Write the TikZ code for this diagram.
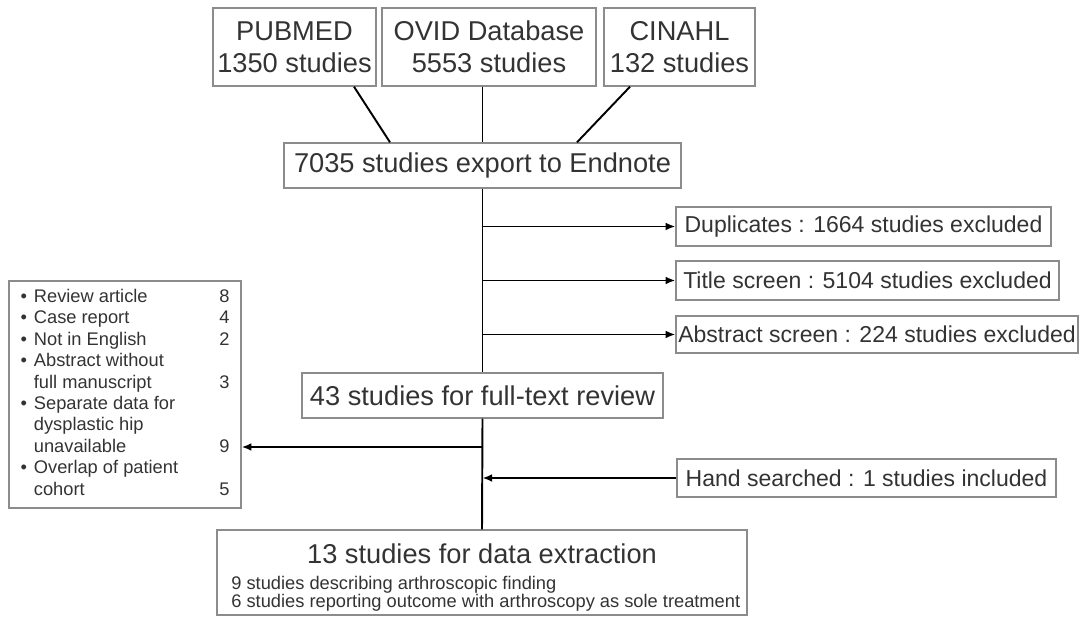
\documentclass[tikz,border=0pt]{standalone}
\usepackage{fontspec}
\setmainfont{Liberation Sans}
\usetikzlibrary{arrows.meta,calc}
\definecolor{boxgray}{HTML}{8C8C8C}
\definecolor{inkgray}{HTML}{333333}

\begin{document}
\begin{tikzpicture}[x=0.02cm,y=-0.02cm,
  box/.style={draw=boxgray,line width=0.8pt,text=inkgray,inner sep=0pt,align=center},
  big/.style={font=\fontsize{15.5}{18.1}\selectfont},
  mid/.style={font=\fontsize{13.1}{15}\selectfont},
  small/.style={font=\fontsize{10.4}{12.2}\selectfont},
  link/.style={line width=1.1pt},
  arr/.style={line width=1.1pt,-{Latex[length=5.5pt,width=4.5pt]}}]
\useasboundingbox (0,0) rectangle (1084,617);
\node[box,big,minimum width=3.26cm,minimum height=1.56cm] (pubmed) at (294.5,47) {PUBMED\\1350 studies};
\node[box,big,minimum width=4.28cm,minimum height=1.56cm] (ovid) at (489,47) {OVID Database\\5553 studies};
\node[box,big,minimum width=3.02cm,minimum height=1.56cm] (cinahl) at (679.5,47) {CINAHL\\132 studies};
\node[box,big,minimum width=7.94cm,minimum height=0.9cm] (endnote) at (482.5,165.5) {7035 studies export to Endnote};
\node[box,mid,minimum width=7.5cm,minimum height=0.78cm] (dup) at (863.5,226.5) {Duplicates : 1664 studies excluded};
\node[box,mid,minimum width=7.66cm,minimum height=0.78cm] (title) at (867.5,280.5) {Title screen : 5104 studies excluded};
\node[box,mid,minimum width=8.04cm,minimum height=0.74cm] (abstract) at (877,334.5) {Abstract screen : 224 studies excluded};
\node[box,big,minimum width=7.22cm,minimum height=0.9cm] (full) at (482.5,395.5) {43 studies for full-text review};
\node[box,small,minimum width=4.64cm,minimum height=4.54cm] (excl) at (125,394.5) {%
  \begin{tabular*}{4.18cm}{@{}l@{\hspace{0.14cm}}l@{\extracolsep{\fill}}r@{}}
  \textbullet & Review article & 8\\
  \textbullet & Case report & 4\\
  \textbullet & Not in English & 2\\
  \textbullet & Abstract without & \\
   & full manuscript & 3\\
  \textbullet & Separate data for & \\
   & dysplastic hip & \\
   & unavailable & 9\\
  \textbullet & Overlap of patient & \\
   & cohort & 5
  \end{tabular*}};
\node[box,mid,minimum width=7.58cm,minimum height=0.76cm] (hand) at (866.5,478) {Hand searched : 1 studies included};
\node[box,minimum width=10.6cm,minimum height=1.7cm] (extract) at (482,572.5) {};
\node[big,text=inkgray,anchor=base,inner sep=0pt] (extracthead) at (482,563) {13 studies for data extraction};
\node[small,text=inkgray,anchor=base west,inner sep=0pt] (extractone) at (231,589) {9 studies describing arthroscopic finding};
\node[small,text=inkgray,anchor=base west,inner sep=0pt] (extracttwo) at (231,607) {6 studies reporting outcome with arthroscopy as sole treatment};

\draw[link] ($(pubmed.south)+(59.5,0)$) -- ($(endnote.north)+(-92.5,0)$);
\draw[link] (ovid.south -| endnote.north) -- (endnote.north);
\draw[link] ($(cinahl.south)+(-49.5,0)$) -- ($(endnote.north)+(94.5,0)$);
\draw[link] (endnote.south) -- (full.north);
\draw[link] (full.south) -- (extract.north);
\foreach \target in {dup,title,abstract}
  \draw[arr] (\target.west -| endnote.south) -- (\target.west);
\coordinate (split) at (482.5,447);
\draw[arr] (split) -- (split -| excl.east);
\draw[arr] (hand.west) -- (hand.west -| full.south);
\end{tikzpicture}
\end{document}
